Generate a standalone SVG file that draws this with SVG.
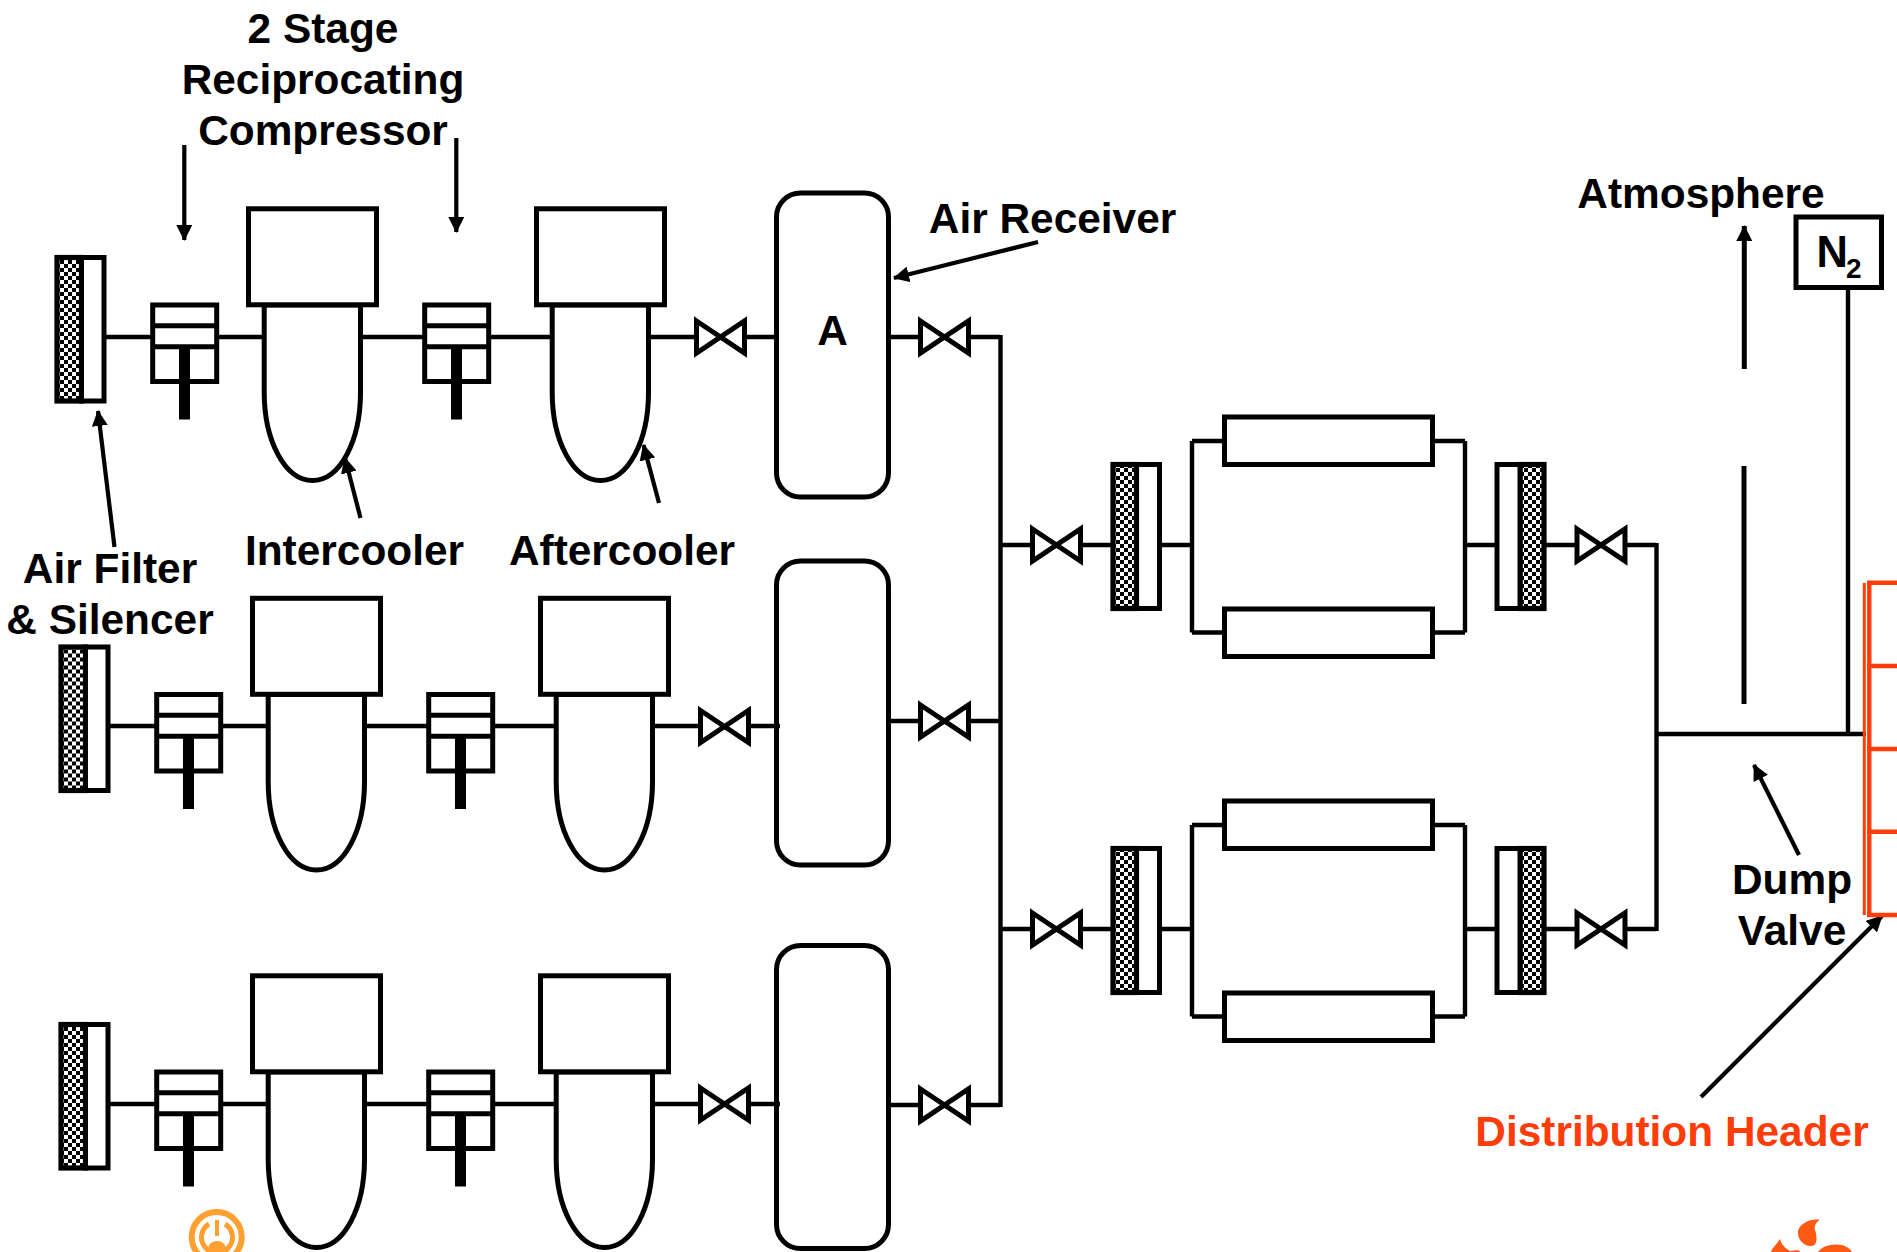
<svg xmlns="http://www.w3.org/2000/svg" width="1897" height="1252" viewBox="0 0 1897 1252">
<style>
.s{fill:none;stroke:#000;stroke-width:4.200}
.w{fill:#fff;stroke:#000;stroke-width:5}
.o{fill:none;stroke:#000;stroke-width:5}
.l{fill:none;stroke:#000;stroke-width:4.400}
.r{fill:none;stroke:#FF3D0A;stroke-width:4.400}
text{font-family:"Liberation Sans",Arial,sans-serif;font-weight:700;font-size:42.400px;fill:#000;text-anchor:middle}
.red{fill:#FF3D0A}
</style>
<defs>
<pattern id="chk" width="8" height="8" patternUnits="userSpaceOnUse">
<rect width="8" height="8" fill="#fff"/><rect width="4" height="4" fill="#000"/><rect x="4" y="4" width="4" height="4" fill="#000"/>
</pattern>
<marker id="ah" markerUnits="userSpaceOnUse" markerWidth="17" markerHeight="16" refX="15" refY="8" orient="auto">
<path d="M0,0L16,8L0,16Z" fill="#000"/>
</marker>
<g id="filterL"><rect x="57" y="257.500" width="24.500" height="143.500" fill="url(#chk)" stroke="#000" stroke-width="5.200"/><rect x="81.500" y="257.500" width="22.500" height="143.500" class="w"/></g>
<g id="filterR"><rect x="1520" y="464.500" width="24" height="144" fill="url(#chk)" stroke="#000" stroke-width="5.200"/><rect x="1497" y="464.500" width="23" height="144" class="w"/></g>
<g id="comp"><rect x="152.700" y="305" width="64" height="76.500" class="w"/><path class="o" d="M152.700,325.700H216.700M152.700,346.700H216.700"/><rect x="179" y="345" width="11" height="74.500" fill="#000"/></g>
<g id="cool"><path class="w" d="M264.200,305V392C264.200,441 285,480.500 312.500,480.500C340,480.500 360.500,441 360.500,392V305Z"/><rect x="248.500" y="208.800" width="128" height="96" class="w"/></g>
<path id="valve" class="w" d="M-24,-16L24,16V-16L-24,16Z"/>
<g id="bank"><path class="l" d="M1000.500,545H1033M1080,545H1112M1162,545H1192M1192,441V632.500M1192,441H1224M1192,632.500H1224M1432,441H1465M1432,632.500H1465M1465,441V632.500M1465,545H1497M1545,545H1577M1626,545H1656.500"/><rect x="1224.500" y="417" width="208" height="47.500" class="w"/><rect x="1224.500" y="609" width="208" height="47.500" class="w"/><rect x="1136.500" y="464.500" width="23" height="144" class="w"/><rect x="1113" y="464.500" width="23.500" height="144" fill="url(#chk)" stroke="#000" stroke-width="5.200"/><use href="#filterR"/><use href="#valve" x="1056.500" y="545"/><use href="#valve" x="1601" y="545"/></g>
</defs>
<g id="connectors">
<path class="l" d="M105,337H152M217,337H264M361,337H425M489,337H553M649,337H697M745,337H776M889,337H920M968,337H1000.500"/>
<path class="l" d="M109,726H156M221,726H268M365,726H429M493,726H557M653,726H701M749,726H780M889,721H920M968,721H1000.500"/>
<path class="l" d="M109,1104H156M221,1104H268M365,1104H429M493,1104H557M653,1104H701M749,1104H780M889,1105H920M968,1105H1000.500"/>
<path class="l" d="M1000.500,335V1107M1656.500,543V931M1656.500,734H1866M1848,289V736"/>
<path class="o" d="M1744,466V704"/>
<path class="o" marker-end="url(#ah)" d="M1744.300,369V226"/>
<path class="s" marker-end="url(#ah)" d="M184.300,145V240"/>
<path class="s" marker-end="url(#ah)" d="M456.300,138V232"/>
<path class="s" marker-end="url(#ah)" d="M1038,242L894,278"/>
<path class="s" marker-end="url(#ah)" d="M114.500,547L98,411"/>
<path class="s" marker-end="url(#ah)" d="M360.500,518L345,458"/>
<path class="s" marker-end="url(#ah)" d="M659,503L643.500,445"/>
<path class="s" marker-end="url(#ah)" d="M1799,855L1754,765"/>
<path class="s" marker-end="url(#ah)" d="M1701,1097L1882,916"/>
</g>
<g id="row1"><use href="#filterL"/><use href="#comp"/><use href="#cool"/><use href="#comp" x="272"/><use href="#cool" x="288"/><use href="#valve" x="720.500" y="337"/></g>
<g id="row2" transform="translate(4,389.500)"><use href="#filterL"/><use href="#comp"/><use href="#cool"/><use href="#comp" x="272"/><use href="#cool" x="288"/><use href="#valve" x="720.500" y="337"/></g>
<g id="row3" transform="translate(4,767)"><use href="#filterL"/><use href="#comp"/><use href="#cool"/><use href="#comp" x="272"/><use href="#cool" x="288"/><use href="#valve" x="720.500" y="337"/></g>
<g id="receivers">
<rect x="776.500" y="193" width="112" height="304" rx="24" class="o"/>
<rect x="776.500" y="561" width="112" height="304" rx="24" class="o"/>
<rect x="776.500" y="945.500" width="112" height="303" rx="24" class="o"/>
<use href="#valve" x="944.500" y="337"/><use href="#valve" x="944.500" y="721"/><use href="#valve" x="944.500" y="1105"/>
</g>
<g id="bank1"><use href="#bank"/></g>
<g id="bank2"><use href="#bank" y="384"/></g>
<g id="n2"><rect x="1796" y="217" width="85.500" height="70.500" class="w"/><text x="1816.500" y="267" style="text-anchor:start;font-size:43.500px">N</text><text x="1846" y="278" style="text-anchor:start;font-size:28px">2</text></g>
<g id="header">
<path fill="none" stroke="#FF3D0A" stroke-width="3" d="M1864.300,583V915"/>
<path class="r" d="M1869.300,583V915M1867,582.700H1897M1867,666H1897M1867,749H1897M1867,831.700H1897M1867,915H1897"/>
</g>
<g id="labels">
<text x="323" y="42.500">2 Stage</text>
<text x="323" y="93.500">Reciprocating</text>
<text x="323" y="144.500">Compressor</text>
<text x="1052.500" y="233">Air Receiver</text>
<text x="354.500" y="565">Intercooler</text>
<text x="622" y="565">Aftercooler</text>
<text x="110" y="583">Air Filter</text>
<text x="110" y="634">&amp; Silencer</text>
<text x="832.500" y="345">A</text>
<text x="1701" y="208">Atmosphere</text>
<text x="1792" y="893.500">Dump</text>
<text x="1792" y="944.500">Valve</text>
<text x="1672" y="1146" class="red">Distribution Header</text>
</g>
<g id="logo-left">
<circle cx="216.700" cy="1237" r="25" fill="none" stroke="#FFA030" stroke-width="6"/>
<path fill="none" stroke="#FFA030" stroke-width="5" d="M209,1224A15.500,15.500 0 1 0 225,1224"/>
<path fill="none" stroke="#FFA030" stroke-width="4" d="M217,1220V1236"/>
<ellipse cx="217" cy="1249" rx="9" ry="8" fill="#FFA030"/>
</g>
<g id="logo-right" fill="#FF5A14">
<path d="M1820,1220C1812,1218 1800,1223 1798,1231C1797,1240 1805,1247 1812,1246C1818,1245 1817,1236 1815,1230C1814,1226 1816,1222 1820,1220Z"/>
<path d="M1780,1239C1777,1244 1772,1248 1771,1252H1800C1799,1249 1795,1251 1790,1251C1785,1248 1781,1244 1780,1239Z"/>
<path d="M1818,1252C1822,1246 1832,1243 1842,1245C1848,1247 1851,1250 1852,1252Z"/>
</g>
</svg>
